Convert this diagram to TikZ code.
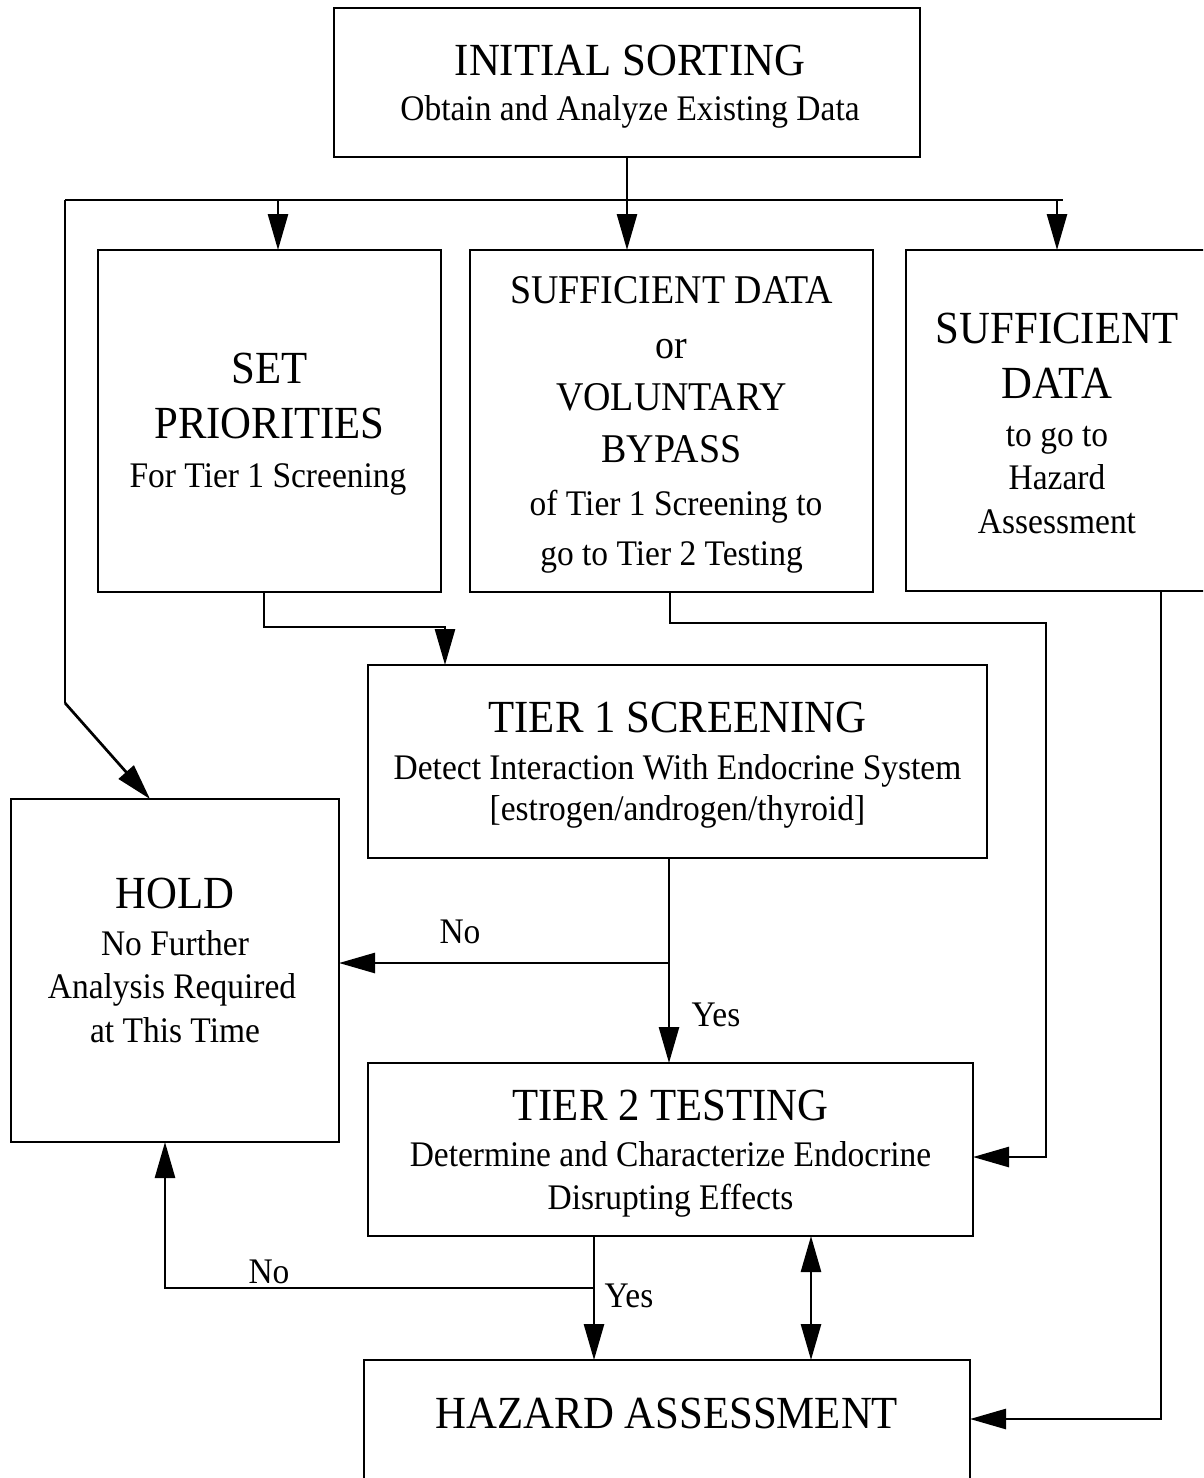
\documentclass[tikz,border=0pt]{standalone}
\usepackage{fontspec}
\setmainfont{Liberation Serif}[FakeStretch=0.93]
\usetikzlibrary{arrows.meta}
\begin{document}
\begin{tikzpicture}[x=1pt,y=-1pt,
  line width=2.9pt,
  box/.style={draw, rectangle, inner sep=0pt, outer sep=0pt},
  conn/.style={draw, line width=2.7pt},
  arr/.style={conn, -{Triangle[length=36pt,width=20pt]}},
  arrboth/.style={conn, {Triangle[length=36pt,width=20pt]}-{Triangle[length=36pt,width=20pt]}},
  tA/.style={font=\fontsize{46}{52}\selectfont, anchor=base, inner sep=0pt},
  tM/.style={font=\fontsize{40.8}{47}\selectfont, anchor=base, inner sep=0pt},
  tS/.style={font=\fontsize{36}{42}\selectfont, anchor=base, inner sep=0pt}]
\useasboundingbox (0,0) rectangle (1203,1478);
\clip (0,0) rectangle (1203,1478);

% boxes
\node[box, minimum width=586pt, minimum height=149pt] (init) at (627,82.5) {};
\node[box, minimum width=343pt, minimum height=342pt] (sp) at (269.5,421) {};
\node[box, minimum width=403pt, minimum height=342pt] (mid) at (671.5,421) {};
\node[box, minimum width=302pt, minimum height=341pt] (suf) at (1057,420.5) {};
\node[box, minimum width=619pt, minimum height=193pt] (t1) at (677.5,761.5) {};
\node[box, minimum width=328pt, minimum height=343pt] (hold) at (175,970.5) {};
\node[box, minimum width=605pt, minimum height=173pt] (t2) at (670.5,1149.5) {};
\node[box, minimum width=606pt, minimum height=160pt] (haz) at (667,1440) {};

% texts
\node[tA] (initA) at (630,75) {INITIAL SORTING};
\node[tS] (initB) at (630,120) {Obtain and Analyze Existing Data};

\node[tA] (spA) at (269.5,383) {SET};
\node[tA] (spB) at (269.5,438) {PRIORITIES};
\node[tS] (spC) at (268,487) {For Tier 1 Screening};

\node[tM] (midA) at (671.5,303) {SUFFICIENT DATA};
\node[tM] (midB) at (671.5,358) {or};
\node[tM] (midC) at (671.5,410) {VOLUNTARY};
\node[tM] (midD) at (671.5,462) {BYPASS};
\node[tS] (midE) at (676,515) {of Tier 1 Screening to};
\node[tS] (midF) at (671.5,565) {go to Tier 2 Testing};

\node[tA] (sufA) at (1057,343) {SUFFICIENT};
\node[tA] (sufB) at (1057,398) {DATA};
\node[tS] (sufC) at (1057,446) {to go to};
\node[tS] (sufD) at (1057,489) {Hazard};
\node[tS] (sufE) at (1057,533) {Assessment};

\node[tA] (t1A) at (677.5,732) {TIER 1 SCREENING};
\node[tS] (t1B) at (677.5,779) {Detect Interaction With Endocrine System};
\node[tS] (t1C) at (677.5,820) {[estrogen/androgen/thyroid]};

\node[tA] (holdA) at (175,908) {HOLD};
\node[tS] (holdB) at (175,955) {No Further};
\node[tS] (holdC) at (172,998) {Analysis Required};
\node[tS] (holdD) at (175,1042) {at This Time};

\node[tA] (t2A) at (670.5,1120) {TIER 2 TESTING};
\node[tS] (t2B) at (670.5,1166) {Determine and Characterize Endocrine};
\node[tS] (t2C) at (670.5,1209) {Disrupting Effects};

\node[tA] (hazA) at (667,1428) {HAZARD ASSESSMENT};

% labels
\node[tS] (no1) at (460,943) {No};
\node[tS] (yes1) at (716,1026) {Yes};
\node[tS] (no2) at (269,1283) {No};
\node[tS] (yes2) at (629,1307) {Yes};

% helper coordinates
\coordinate (hl) at (65,200);
\coordinate (hr) at (1063,200);
\coordinate (x278) at (278,0);
\coordinate (hbend) at (65,703);
\coordinate (x150) at (150,0);
\coordinate (b1) at (264,627);
\coordinate (x445) at (445,0);
\coordinate (b2) at (670,623);
\coordinate (b3) at (1046,623);
\coordinate (b4) at (1046,1157);
\coordinate (b5) at (1161,1419);
\coordinate (b6) at (669,963);
\coordinate (b7) at (594,1288);
\coordinate (b8) at (165,1288);
\coordinate (x811) at (811,0);

% connectors
\draw[arr] (init.south) -- (init.south |- mid.north);
\draw[conn] (hl) -- (hr);
\draw[arr] (hl -| x278) -- (sp.north -| x278);
\draw[arr] (hr -| suf.north) -- (suf.north);
\draw[conn] (hl) -- (hbend);
\draw[arr] (hbend) -- (hold.north -| x150);
\draw[arr] (sp.south -| b1) -- (b1) -| (t1.north -| x445);
\draw[arr] (mid.south -| b2) -- (b2) -- (b3) -- (b4) -- (t2.east |- b4);
\draw[arr] (suf.south -| b5) -- (b5) -- (haz.east |- b5);
\draw[arr] (t1.south -| b6) -- (t2.north -| b6);
\draw[arr] (b6) -- (hold.east |- b6);
\draw[arr] (t2.south -| b7) -- (haz.north -| b7);
\draw[arr] (b7) -- (b8) -- (hold.south -| b8);
\draw[arrboth] (t2.south -| x811) -- (haz.north -| x811);
\end{tikzpicture}
\end{document}
